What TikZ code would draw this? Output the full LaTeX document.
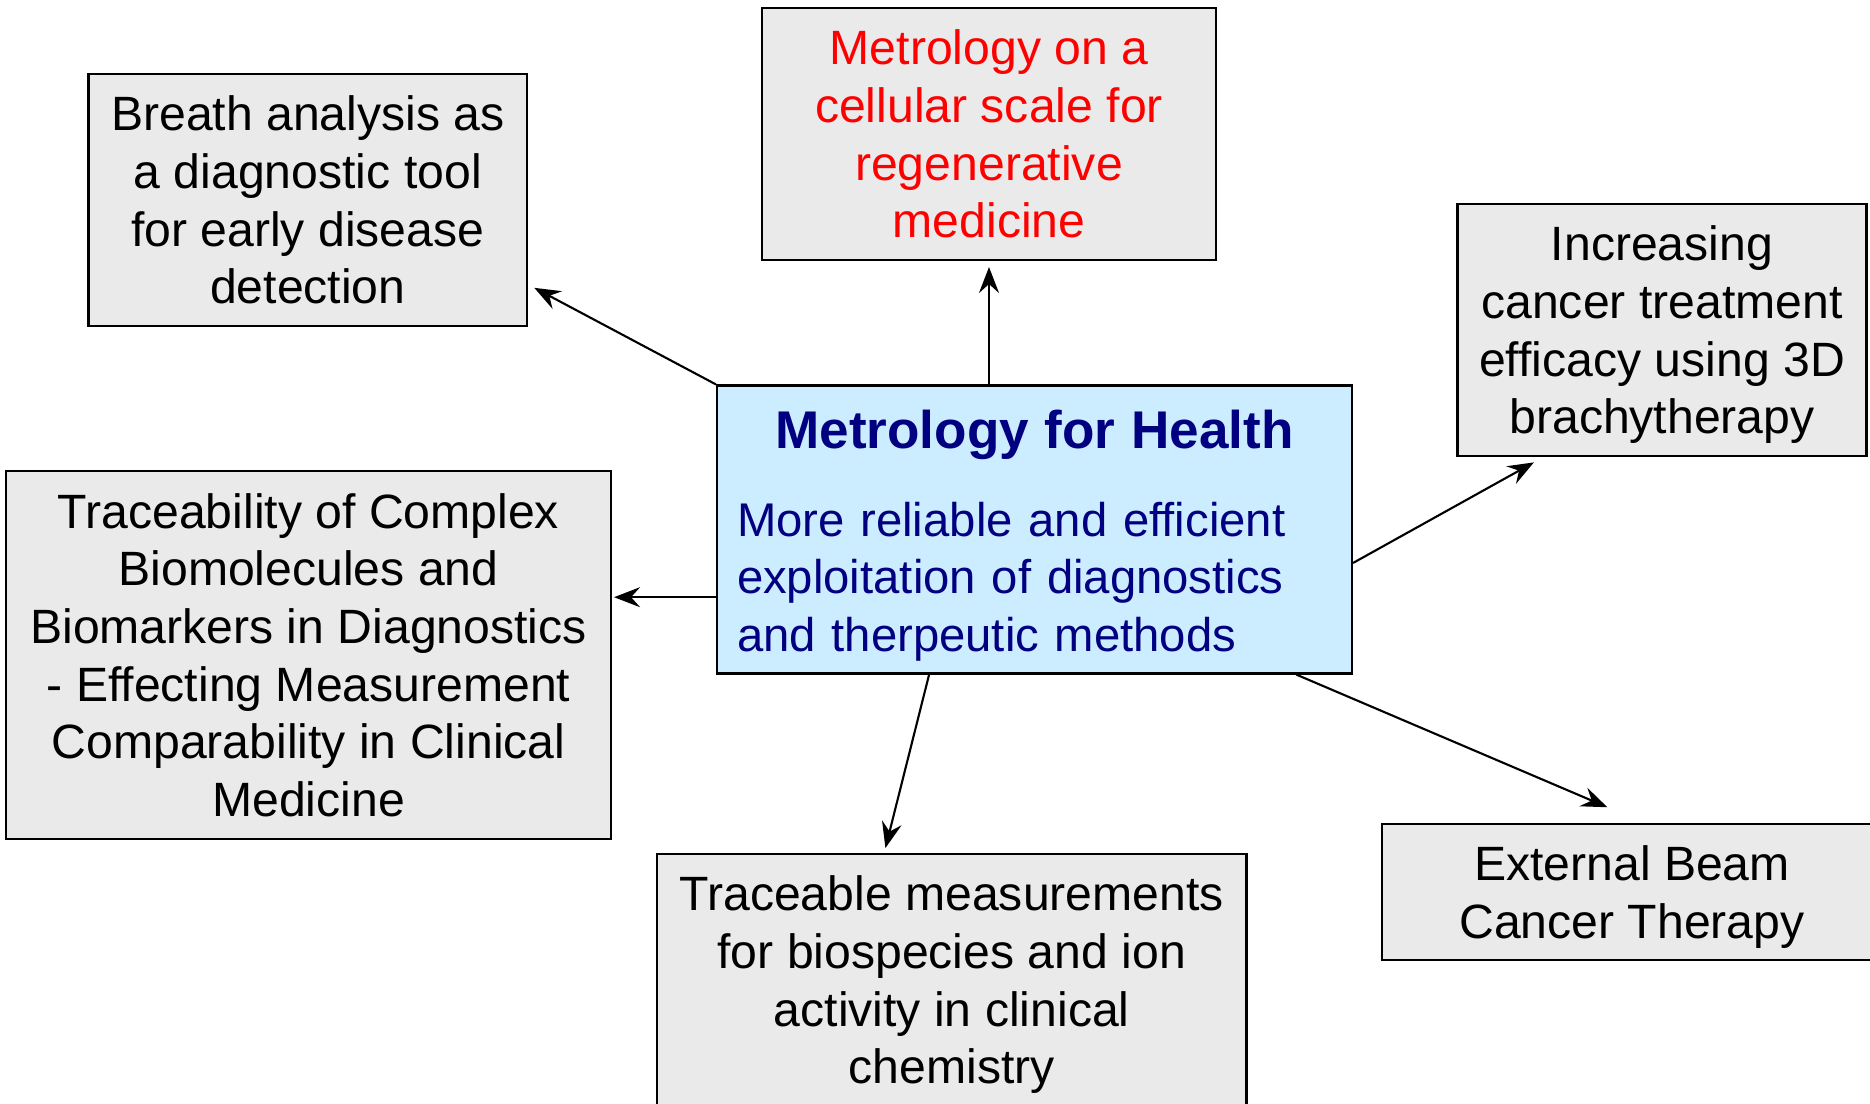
\documentclass[tikz,border=0pt]{standalone}
\usepackage{fontspec}
\setmainfont{Liberation Sans}
\usetikzlibrary{arrows.meta}
\definecolor{boxgray}{HTML}{EAEAEA}
\definecolor{hubblue}{HTML}{CCECFF}
\definecolor{hubnavy}{HTML}{000080}

\begin{document}
\begin{tikzpicture}
[line width=0.6pt,>={Stealth[length=2.6mm,width=2mm,inset=0.9mm]},%
  every node/.style={shape=rectangle,draw,line width=0.6pt,inner sep=0pt,align=center,%
    font=\fontsize{13.7}{16.4}\selectfont},%
  topic/.style={fill=boxgray,minimum height=2.52cm,text depth=0pt},%
  hub/.style={fill=hubblue,text=hubnavy,minimum width=6.35cm,minimum height=2.88cm,%
    text width=5.95cm,align=left,inner xsep=0.2cm,font=\fontsize{13.45}{16.4}\selectfont}]
\useasboundingbox (0,0) rectangle (18.70,-11.04);
\clip (0,0) rectangle (18.70,-11.04);
\node[hub] (hub) at (10.345,-5.295)
  {\hbox to \hsize{\hfil\rule{0pt}{14.5pt}\fontsize{15.1}{18}\bfseries Metrology for Health\hfil}\\[8.4pt]
   More reliable and efficient\\ exploitation of diagnostics\\ and therpeutic methods};
\node[topic,minimum width=4.385cm] (breath) at (3.078,-2.0)
  {Breath analysis as\\ a diagnostic tool\\ for early disease\\ detection};
\node[topic,minimum width=4.545cm,text=red] (cell) at (9.89,-1.34)
  {Metrology on a\\ cellular scale for\\ regenerative\\ medicine};
\node[topic,minimum width=4.09cm] (incr) at (16.62,-3.30)
  {Increasing\\ cancer treatment\\ efficacy using 3D\\ brachytherapy};
\node[topic,minimum width=6.05cm,minimum height=3.68cm] (trace) at (3.085,-6.55)
  {Traceability of Complex\\ Biomolecules and\\ Biomarkers in Diagnostics\\
   - Effecting Measurement\\ Comparability in Clinical\\ Medicine};
\node[topic,minimum width=5.895cm] (meas) at (9.5175,-9.80)
  {Traceable measurements\\ for biospecies and ion\\ activity in clinical\\ chemistry};
\node[topic,minimum width=5.0cm,minimum height=1.36cm] (beam) at (16.32,-8.92)
  {External Beam\\ Cancer Therapy};
% spokes from the hub
\draw[->,shorten >=0.7mm] (hub.north west) -- (breath.-21.5);
\draw[->,shorten >=0.6mm] (hub.north -| cell.south) -- (cell.south);
\draw[->,shorten >=1.1mm] (hub.-6.6) -- (incr.-133.7);
\draw[->,shorten >=0.2mm] (hub.192) -- (hub.192 -| trace.east);
\draw[->,shorten >=0.5mm] (hub.-126.5) -- (meas.118.5);
\draw[->,shorten >=4mm] (hub.-29.2) -- (beam.80);
\end{tikzpicture}
\end{document}
